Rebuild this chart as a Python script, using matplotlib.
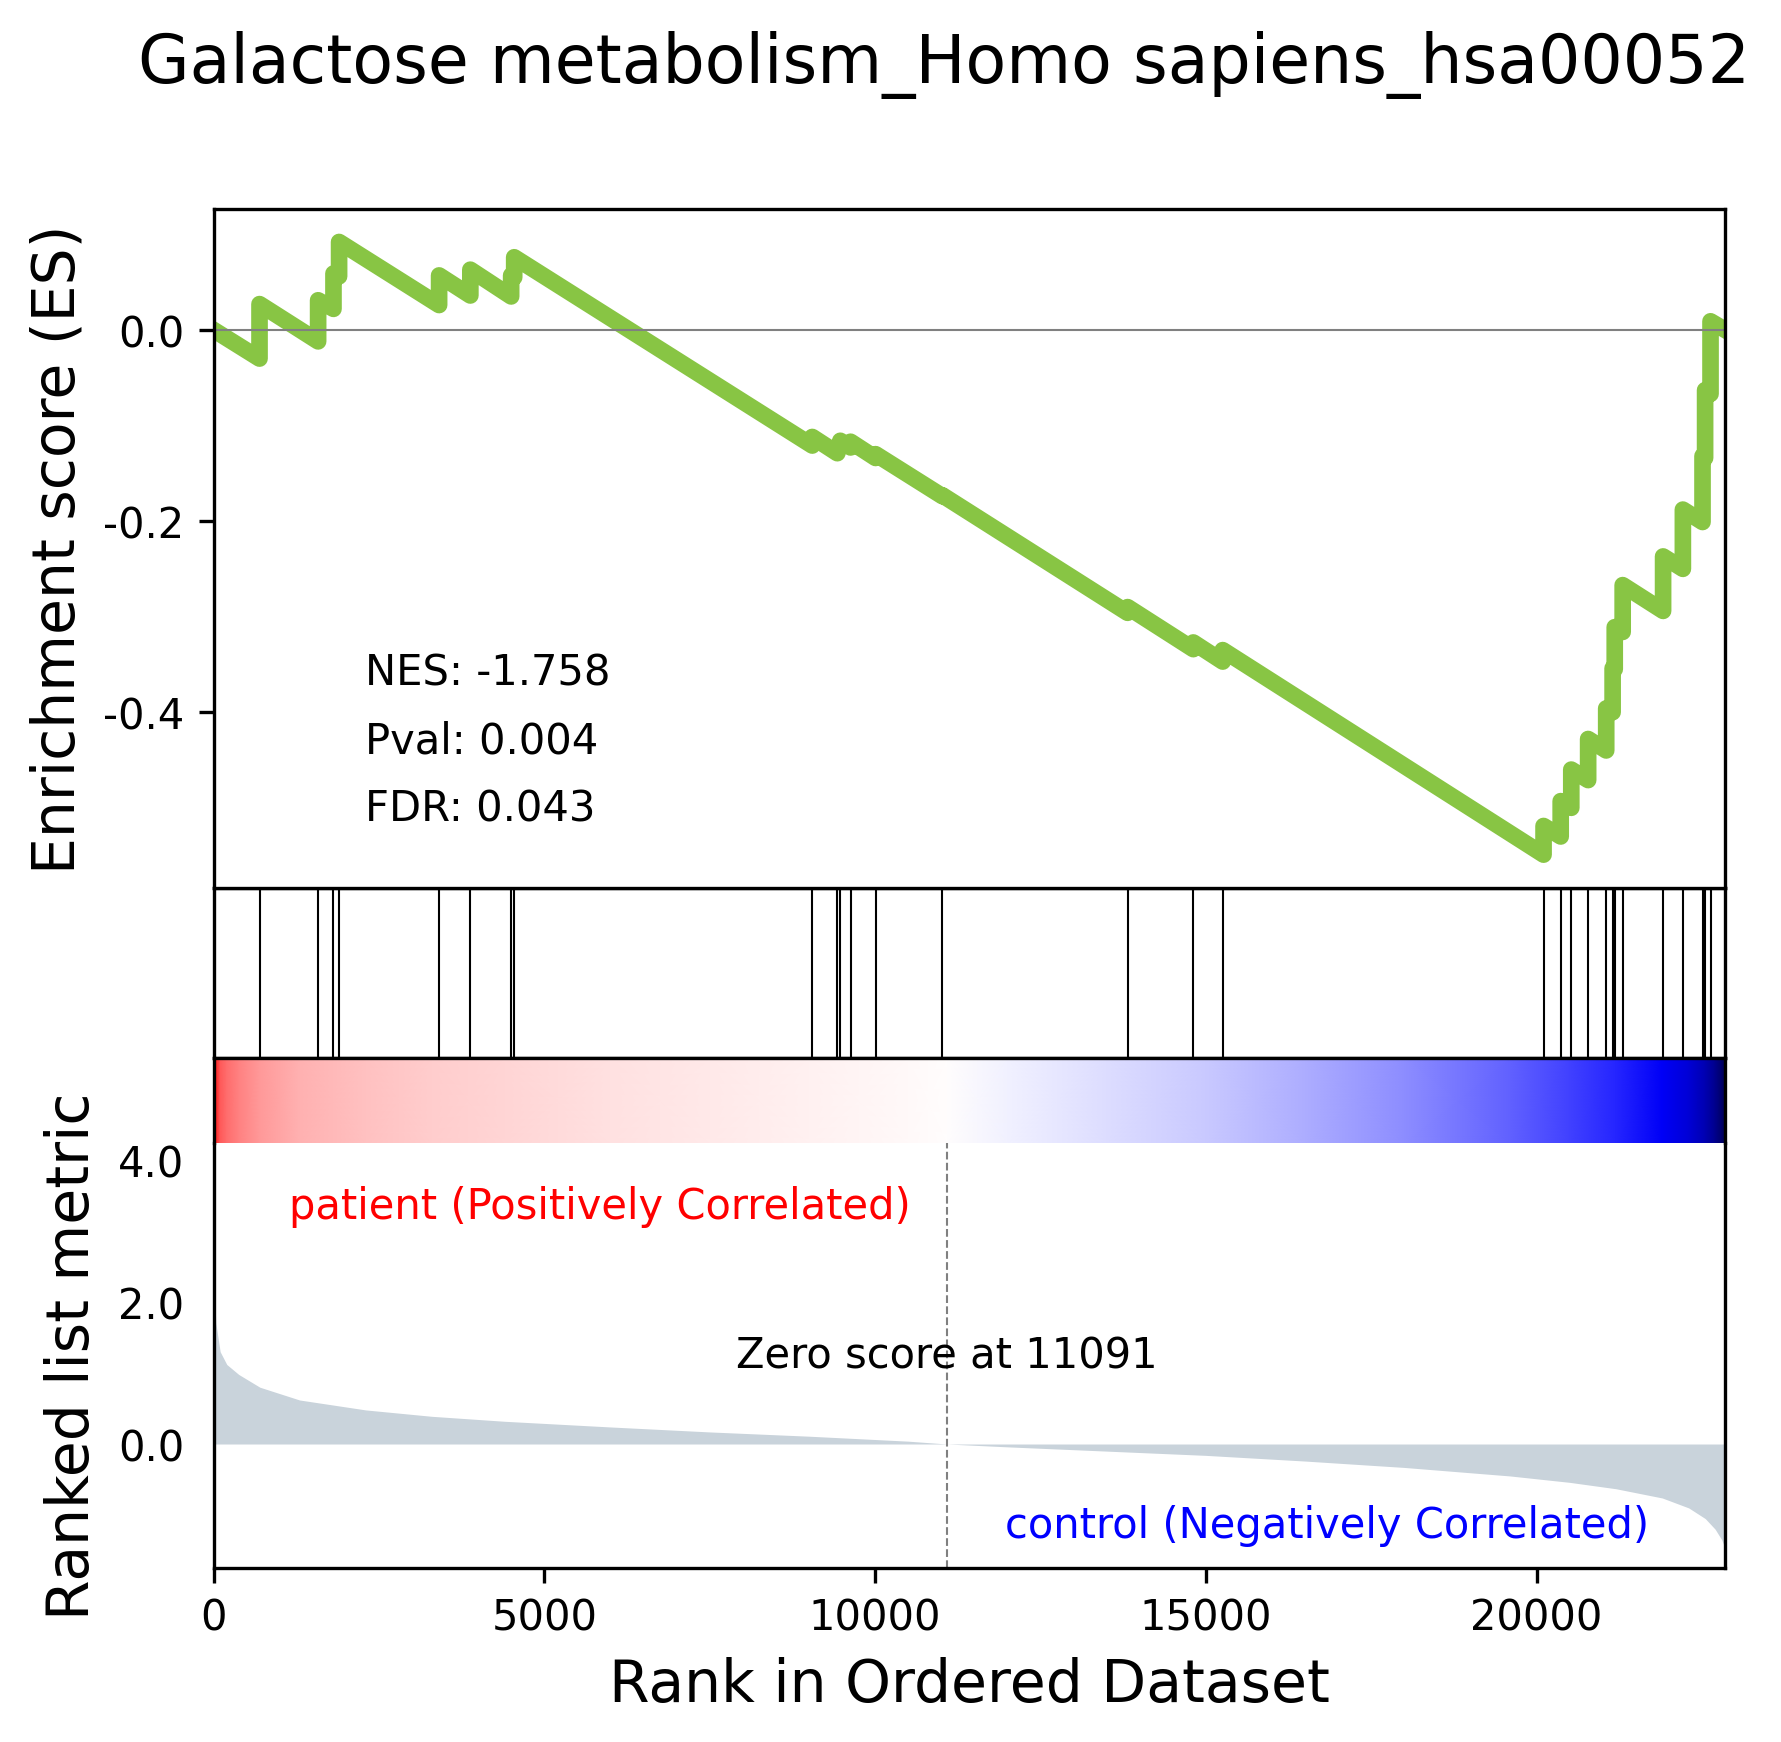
import numpy as np
import matplotlib
matplotlib.use('Agg')
import matplotlib.pyplot as plt
import matplotlib.transforms as transforms
from matplotlib.colors import TwoSlopeNorm

# ---- data ----
title = 'Galactose metabolism_Homo sapiens_hsa00052'
n_genes = 22850
zero_score_ind = 11091
nes_label = 'NES: -1.758'
pval_label = 'Pval: 0.004'
fdr_label = 'FDR: 0.043'
pos_label = 'patient (Positively Correlated)'
neg_label = 'control (Negatively Correlated)'

# gene set hits (rank positions)
hit_ranks = [695, 1581, 1813, 1898, 3410, 3882, 4499, 4545,
             9051, 9430, 9475, 9630, 10008, 11018,
             13818, 14811, 15256,
             20106, 20365, 20525, 20780, 21053, 21150, 21182, 21302,
             21913, 22212, 22509, 22548, 22630]
# running enrichment score just before / just after each hit
es_before = [-0.030, -0.012, 0.022, 0.056, 0.026, 0.036, 0.035, 0.055,
             -0.121, -0.129, -0.123, -0.123, -0.134, -0.174,
             -0.296, -0.334, -0.347,
             -0.549, -0.530, -0.500, -0.471, -0.440, -0.400, -0.355, -0.316,
             -0.294, -0.250, -0.201, -0.134, -0.067]
es_after = [0.027, 0.031, 0.059, 0.092, 0.057, 0.063, 0.057, 0.076,
            -0.112, -0.122, -0.116, -0.117, -0.130, -0.173,
            -0.290, -0.327, -0.335,
            -0.519, -0.493, -0.460, -0.428, -0.396, -0.354, -0.311, -0.267,
            -0.237, -0.188, -0.132, -0.063, 0.009]
es_start = 0.0
es_end = 0.0

# ranked list metric
metric_rank = [0, 15, 35, 100, 200, 380, 700, 1300, 2300, 3300, 4400, 6000,
               7500, 9000, 10500, 11091, 12000, 13500, 15000, 16500, 18000,
               19600, 20500, 21200, 21900, 22300, 22550, 22700, 22800, 22850]
metric_value = [3.97, 2.10, 1.70, 1.30, 1.12, 0.98, 0.80, 0.62, 0.48, 0.39,
                0.32, 0.24, 0.17, 0.11, 0.04, 0.0, -0.04, -0.10, -0.16, -0.24,
                -0.33, -0.45, -0.54, -0.63, -0.76, -0.90, -1.05, -1.20, -1.35,
                -1.47]

# build the ES path from the read vertices
es_x = [0]
es_y = [es_start]
for h, b, a in zip(hit_ranks, es_before, es_after):
    es_x += [h, h]
    es_y += [b, a]
es_x.append(n_genes)
es_y.append(es_end)

fig = plt.figure(figsize=(1781 / 300, 1743 / 300), dpi=300)

left, width = 0.1199, 0.8487
bottom = 0.100
u = (0.8798 - bottom) / 16

fmt = plt.FuncFormatter(lambda v, n: '{:.1f}'.format(v))

# ranked metric
ax1 = fig.add_axes([left, bottom, width, 5 * u])
ax1.fill_between(metric_rank, metric_value, 0, color='#C9D3DB', linewidth=0)
ax1.set_ylim(-1.742, 4.24)
ax1.set_xlim(0, n_genes)
ax1.set_ylabel('Ranked list metric', fontsize=14)
ax1.set_xlabel('Rank in Ordered Dataset', fontsize=14)
ax1.text(.05, .9, pos_label, color='red', ha='left', va='top',
         transform=ax1.transAxes)
ax1.text(.95, .05, neg_label, color='Blue', ha='right', va='bottom',
         transform=ax1.transAxes)
trans1 = transforms.blended_transform_factory(ax1.transData, ax1.transAxes)
ax1.vlines(zero_score_ind, 0, 1, linewidth=.5, transform=trans1,
           linestyles='--', color='grey')
ax1.text(zero_score_ind / n_genes, 0.5, 'Zero score at %d' % zero_score_ind,
         ha='center', va='center', transform=ax1.transAxes)
ax1.spines['top'].set_visible(False)
ax1.tick_params(axis='both', which='both', top=False, right=False, left=False)
ax1.set_yticks([0, 2, 4])
ax1.yaxis.set_major_formatter(fmt)

# gene hits
ax2 = fig.add_axes([left, bottom + 6 * u, width, 2 * u], sharex=ax1)
trans2 = transforms.blended_transform_factory(ax2.transData, ax2.transAxes)
ax2.vlines(hit_ranks, 0, 1, linewidth=.5, transform=trans2, color='black')
ax2.tick_params(axis='both', which='both', bottom=False, top=False,
                right=False, left=False, labelbottom=False, labelleft=False)

# colour strip
ax3 = fig.add_axes([left, bottom + 5 * u, width, u], sharex=ax1)
norm = TwoSlopeNorm(vmin=min(metric_value), vcenter=0, vmax=max(metric_value))
xx = np.array([metric_rank, metric_rank])
yy = np.array([[0] * len(metric_rank), [1] * len(metric_rank)])
cc = np.array([metric_value, metric_value])
ax3.pcolormesh(xx, yy, cc, shading='gouraud', cmap='seismic', norm=norm)
ax3.set_ylim(0, 1)
ax3.spines['bottom'].set_visible(False)
ax3.tick_params(axis='both', which='both', bottom=False, top=False,
                right=False, left=False, labelbottom=False, labelleft=False)

# enrichment score
ax4 = fig.add_axes([left, bottom + 8 * u, width, 8 * u], sharex=ax1)
ax4.plot(es_x, es_y, linewidth=4, color='#88C544')
ax4.axhline(y=0, color='grey', linewidth=0.5)
ax4.text(.1, .1, fdr_label, transform=ax4.transAxes)
ax4.text(.1, .2, pval_label, transform=ax4.transAxes)
ax4.text(.1, .3, nes_label, transform=ax4.transAxes)
ax4.set_ylim(-0.584, 0.127)
ax4.set_ylabel('Enrichment score (ES)', fontsize=14)
ax4.tick_params(axis='both', which='both', bottom=False, top=False,
                labelbottom=False, right=False)
ax4.set_yticks([-0.4, -0.2, 0.0])
ax4.yaxis.set_major_formatter(fmt)
ax1.set_xlim(0, n_genes)

fig.suptitle(title, fontsize=16, x=0.53, y=0.982, va='top')

fig.savefig('out.png', dpi=300)
